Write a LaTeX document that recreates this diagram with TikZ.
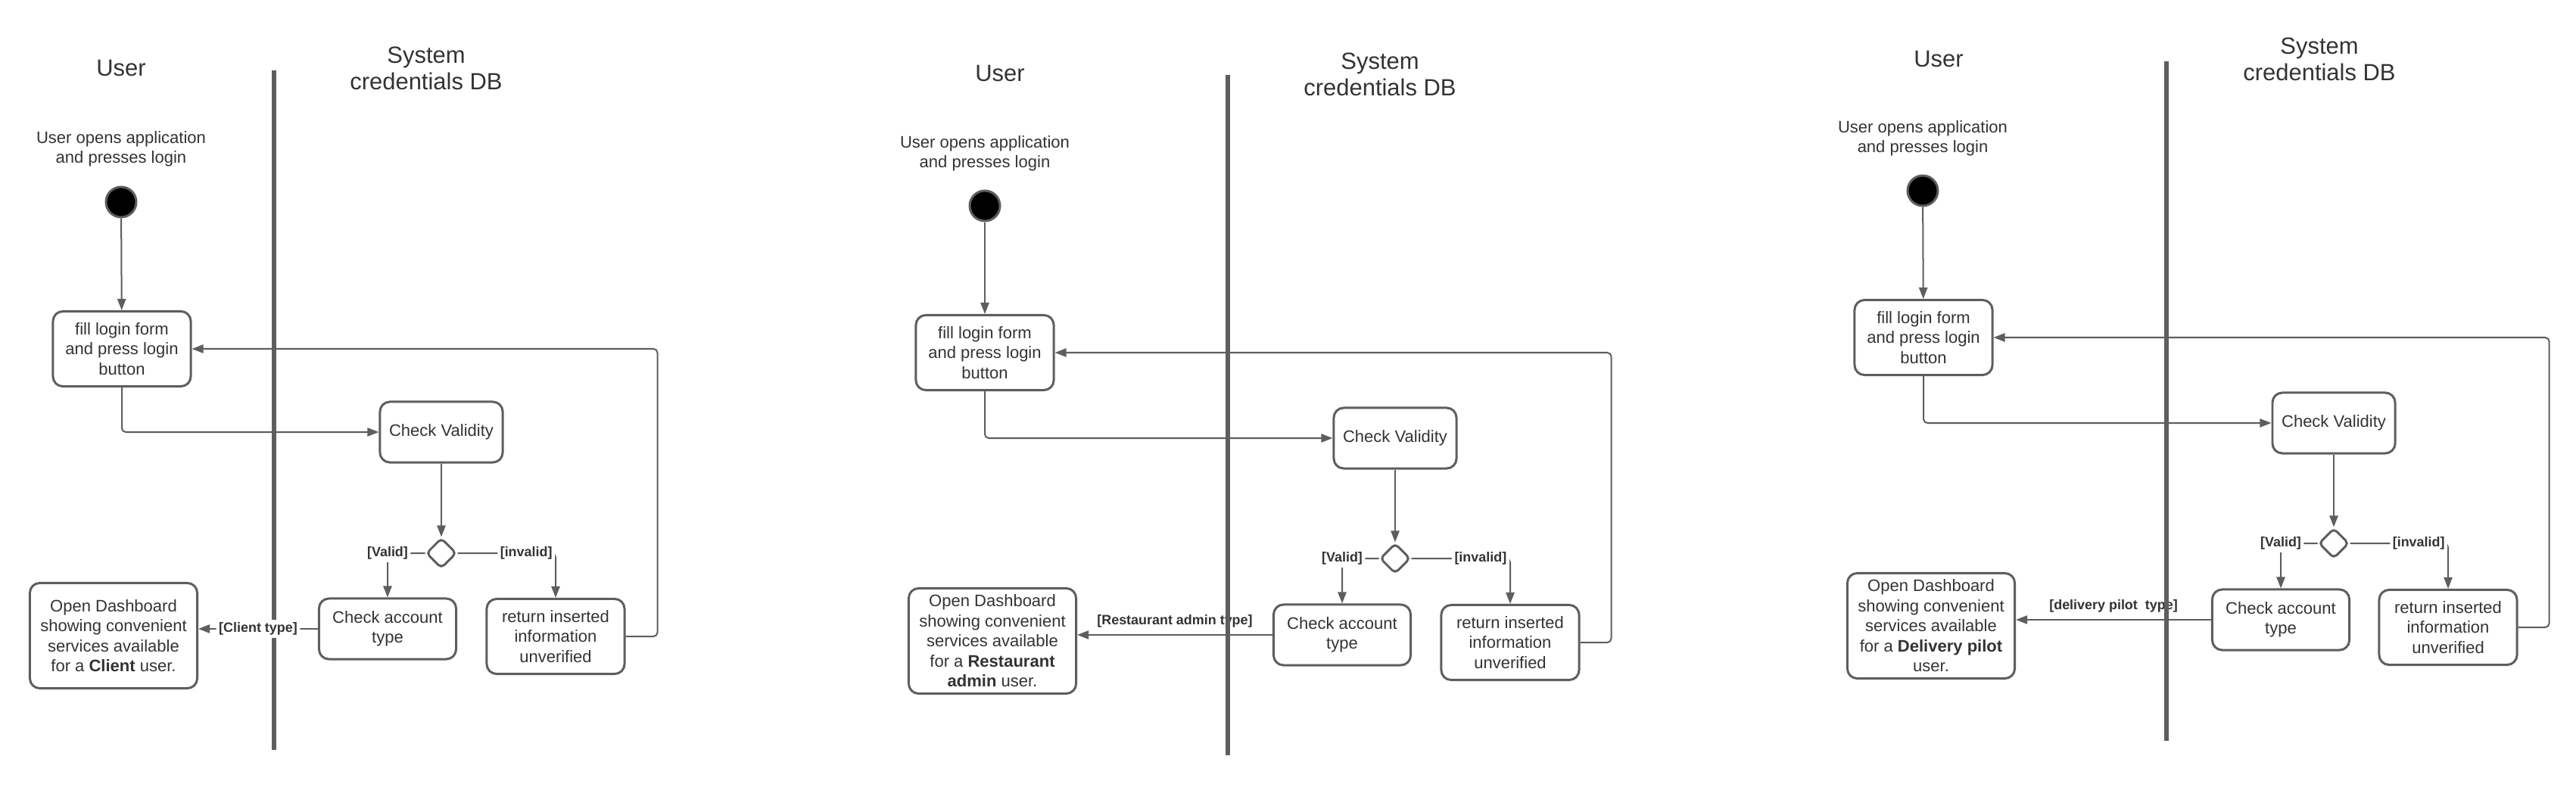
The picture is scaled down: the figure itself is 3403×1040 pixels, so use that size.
\documentclass[tikz,border=0pt]{standalone}
\usepackage{fontspec}
\setmainfont{Liberation Sans}
\usetikzlibrary{arrows.meta,positioning,shapes.geometric}
\definecolor{linegray}{HTML}{5E5E5E}
\definecolor{textgray}{HTML}{333333}

\begin{document}
\begin{tikzpicture}
  [
    x=0.01cm, y=-0.01cm,
    lanetitle/.style={align=center,text=textgray,font=\fontsize{8.8}{10}\selectfont},
    note/.style={align=center,text=textgray,font=\fontsize{6.26}{7.55}\selectfont},
    activity/.style={rectangle,rounded corners=3.7pt,draw=linegray,line width=0.85pt,
      inner sep=0pt,align=center,text=textgray,font=\fontsize{6.26}{7.55}\selectfont},
    formbox/.style={activity,minimum width=1.82cm,minimum height=0.99cm},
    testbox/.style={activity,minimum width=1.62cm,minimum height=0.8cm},
    typebox/.style={activity,minimum width=1.81cm,minimum height=0.8cm},
    dashbox/.style={activity,minimum width=2.21cm,minimum height=1.39cm},
    startdot/.style={circle,fill=black,draw=linegray,line width=0.85pt,inner sep=0pt,minimum size=0.4cm},
    decision/.style={diamond,draw=linegray,line width=0.85pt,rounded corners=1.5pt,inner sep=0pt,minimum size=0.4cm},
    guard/.style={text=textgray,inner sep=1pt,font=\bfseries\fontsize{5.1}{6}\selectfont},
    flow/.style={draw=linegray,line width=0.57pt,rounded corners=1.5pt,-{Triangle[length=4.3pt,width=3.2pt]}},
    lane/.style={draw=linegray,line width=1.8pt}
  ]
  \fill[white] (0,0) rectangle (3403,1040);
  \useasboundingbox (0,0) rectangle (3403,1040);

  % client login
  \draw[lane] (362,93) -- (362,991);
  \node[lanetitle] (user1) at (160,90) {User};
  \node[lanetitle] (sys1) at (563,90) {System\\credentials DB};
  \node[note] (open1) at (160,197) {User opens application\\and presses login};
  \node[startdot] (start1) at (160,267) {};
  \node[formbox] (fill1) at (161,461) {fill login form\\and press login\\button};
  \node[testbox] (valid1) at (583,571) {Check Validity};
  \node[decision] (dec1) at (583,731) {};
  \node[typebox] (acc1) at (512,831) {Check account\\type};
  \node[formbox] (ret1) at (734,841) {return inserted\\information\\unverified};
  \node[dashbox] (dash1) at (150,840) {Open Dashboard\\showing convenient\\services available\\for a \textbf{Client} user.};
  \draw[flow] (start1) -- (fill1);
  \draw[flow] (fill1.south) |- (valid1.west);
  \draw[flow] (valid1) -- (dec1);
  \draw[flow] (dec1.west) -| node[guard,fill=white] {[Valid]} (acc1.north);
  \draw[flow] (dec1.east) -| node[guard,fill=white,pos=0.35] {[invalid]} (ret1.north);
  \draw[flow] (acc1.west) -- node[guard,fill=white] {[Client type]} (acc1.west -| dash1.east);
  \draw[flow] (ret1.east) -- ++(42,0) |- (fill1.east);

  % restaurant admin login
  \node[lanetitle] (user2) at (1321,97) {User};
  \node[lanetitle] (sys2) at (1823,98) {System\\credentials DB};
  \node[note] (open2) at (1301,203) {User opens application\\and presses login};
  \node[startdot] (start2) at (1301,272) {};
  \node[formbox] (fill2) at (1301,466) {fill login form\\and press login\\button};
  \node[testbox] (valid2) at (1843,579) {Check Validity};
  \node[decision] (dec2) at (1843,738) {};
  \node[typebox] (acc2) at (1773,839) {Check account\\type};
  \node[formbox] (ret2) at (1995,849) {return inserted\\information\\unverified};
  \node[dashbox] (dash2) at (1311,847) {Open Dashboard\\showing convenient\\services available\\for a \textbf{Restaurant}\\\textbf{admin} user.};
  \draw[flow] (start2) -- (fill2);
  \draw[flow] (fill2.south) |- (valid2.west);
  \draw[flow] (valid2) -- (dec2);
  \draw[flow] (dec2.west) -| node[guard,fill=white] {[Valid]} (acc2.north);
  \draw[flow] (dec2.east) -| node[guard,fill=white,pos=0.35] {[invalid]} (ret2.north);
  \draw[flow] (acc2.west) -- node[guard,above=1.5pt] {[Restaurant admin type]} (acc2.west -| dash2.east);
  \draw[flow] (ret2.east) -- ++(41,0) |- (fill2.east);
  \draw[lane] (1622,99) -- (1622,998);

  % delivery pilot login
  \node[lanetitle] (user3) at (2561,78) {User};
  \node[lanetitle] (sys3) at (3064,78) {System\\credentials DB};
  \node[note] (open3) at (2540,183) {User opens application\\and presses login};
  \node[startdot] (start3) at (2540,252) {};
  \node[formbox] (fill3) at (2541,446) {fill login form\\and press login\\button};
  \node[testbox] (valid3) at (3083,559) {Check Validity};
  \node[decision] (dec3) at (3083,718) {};
  \node[typebox] (acc3) at (3013,819) {Check account\\type};
  \node[formbox] (ret3) at (3234,829) {return inserted\\information\\unverified};
  \node[dashbox] (dash3) at (2551,827) {Open Dashboard\\showing convenient\\services available\\for a \textbf{Delivery pilot}\\user.};
  \draw[flow] (start3) -- (fill3);
  \draw[flow] (fill3.south) |- (valid3.west);
  \draw[flow] (valid3) -- (dec3);
  \draw[flow] (dec3.west) -| node[guard,fill=white] {[Valid]} (acc3.north);
  \draw[flow] (dec3.east) -| node[guard,fill=white,pos=0.35] {[invalid]} (ret3.north);
  \draw[flow] (acc3.west) -- node[guard,above=1.5pt] {[delivery pilot\ \ type]} (acc3.west -| dash3.east);
  \draw[flow] (ret3.east) -- ++(41,0) |- (fill3.east);
  \draw[lane] (2862,81) -- (2862,979);
\end{tikzpicture}
\end{document}
